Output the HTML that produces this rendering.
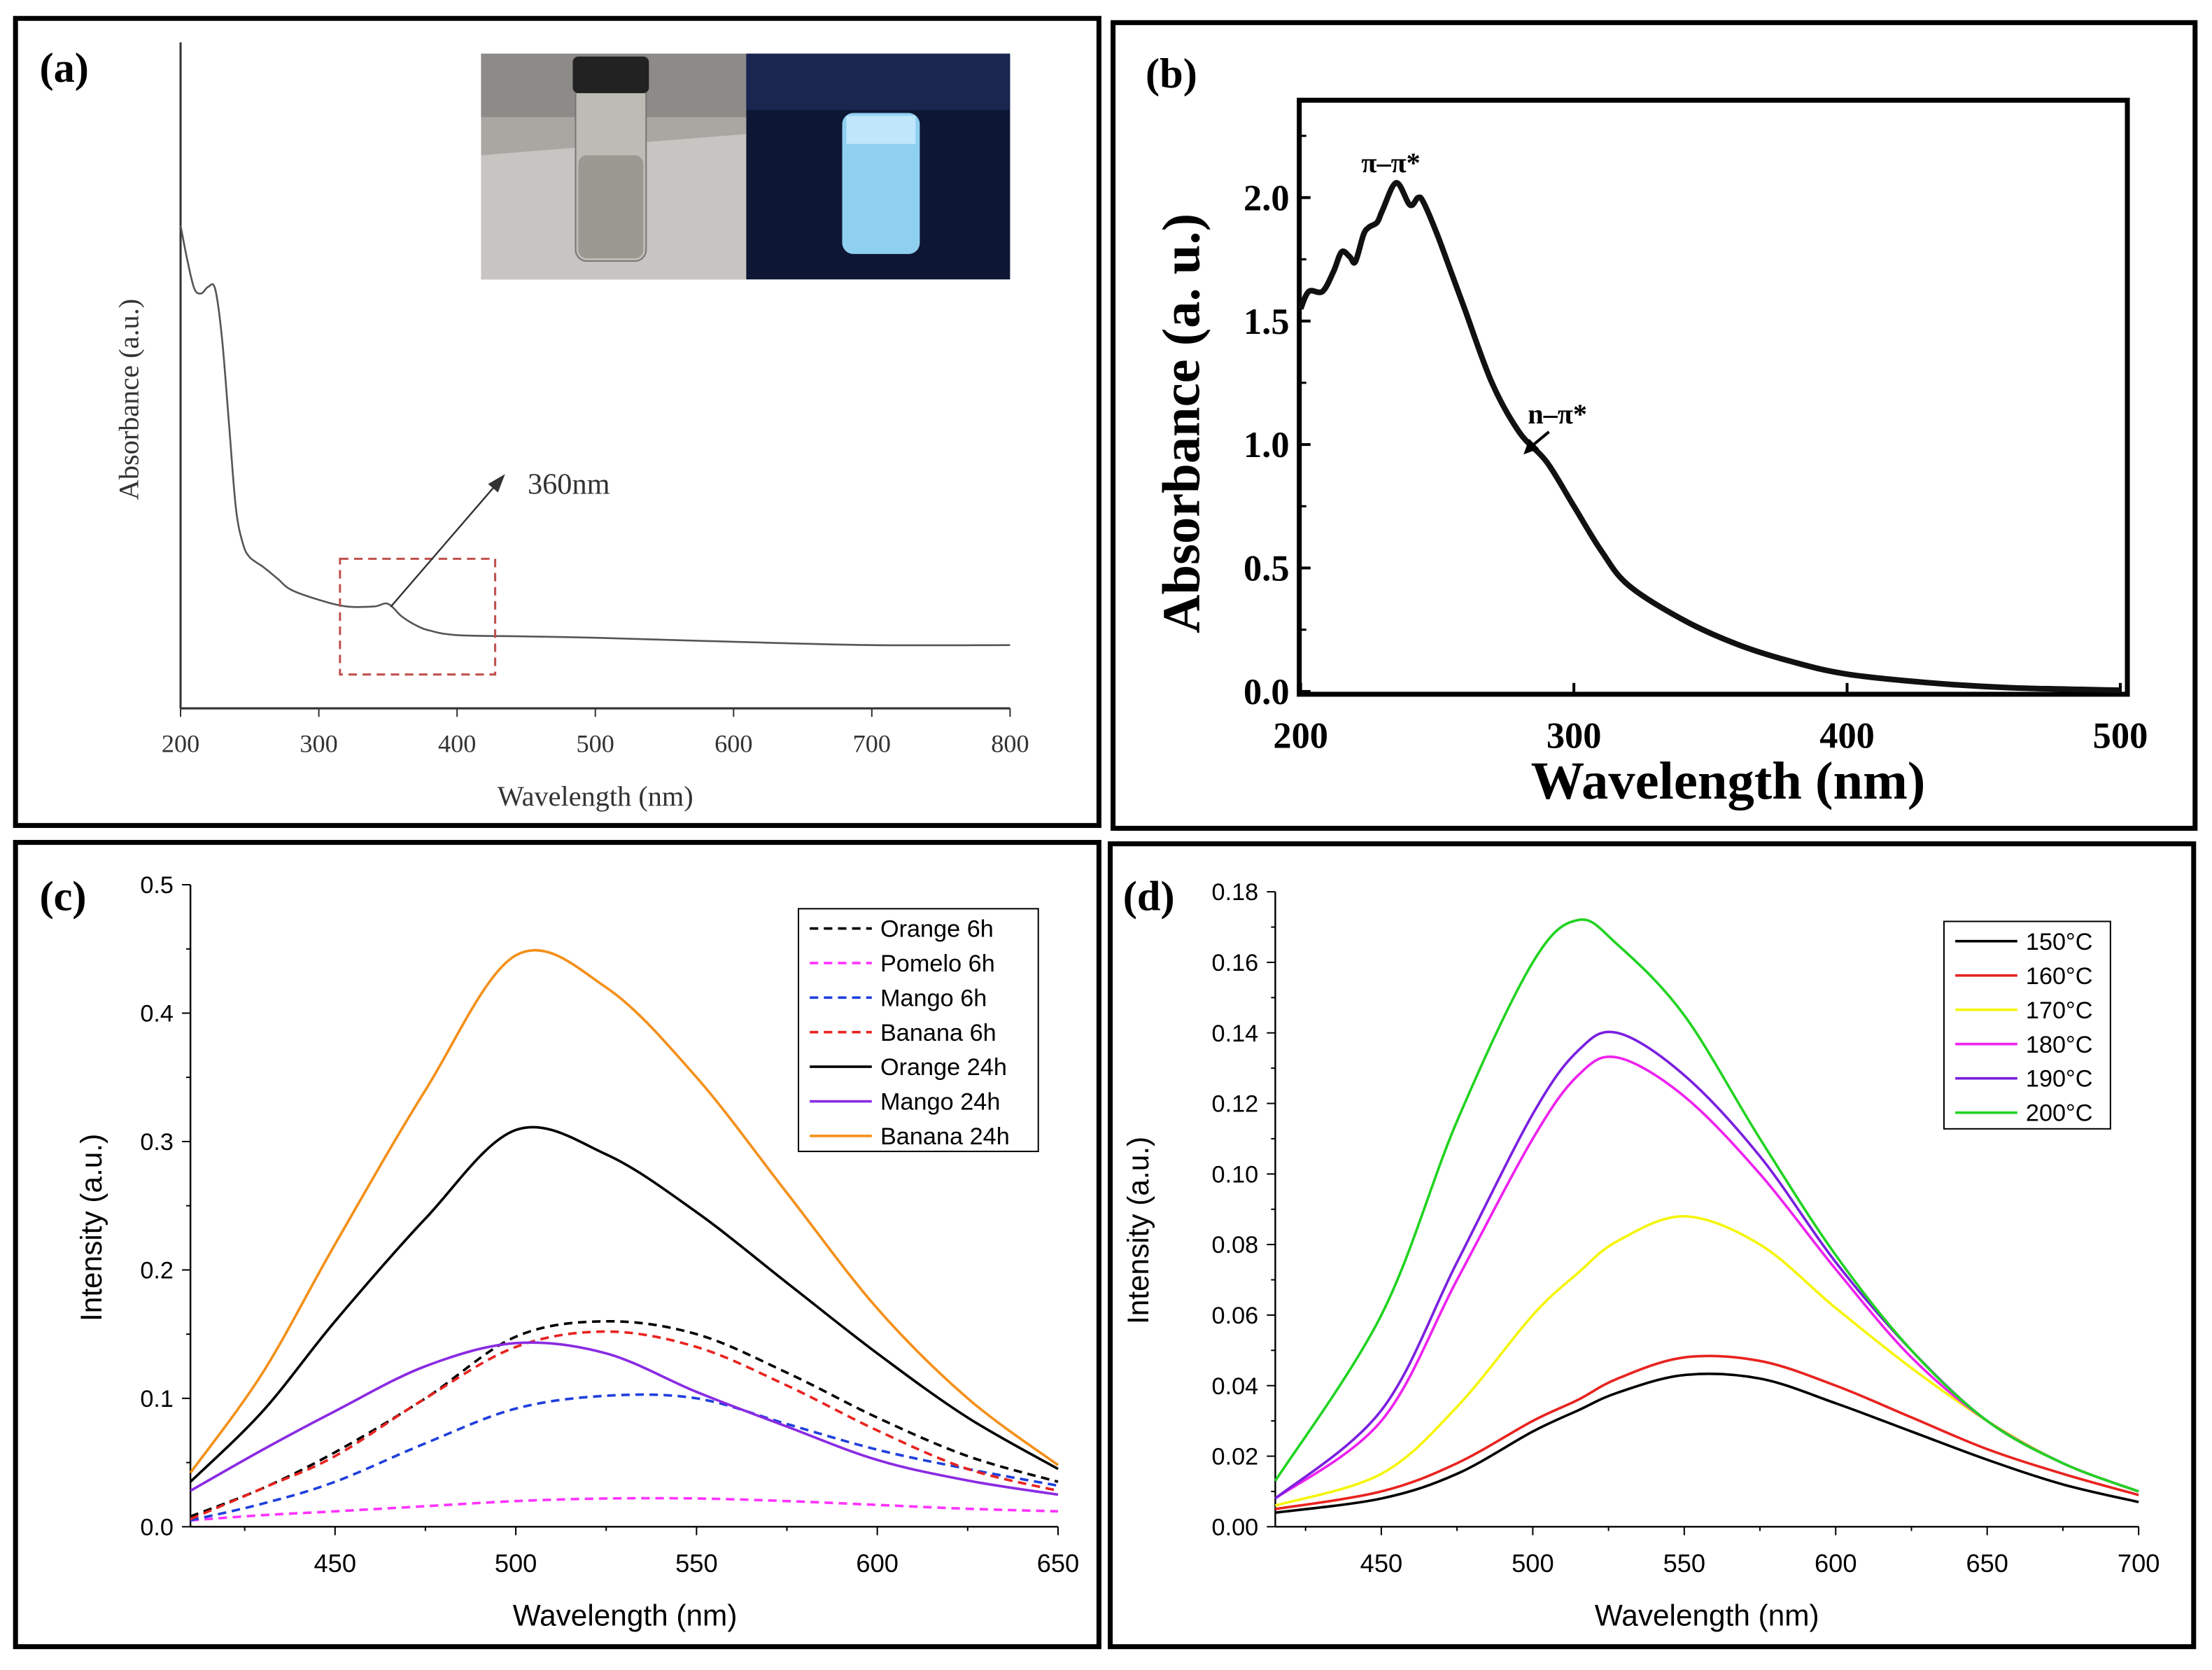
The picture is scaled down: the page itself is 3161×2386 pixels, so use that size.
<!DOCTYPE html>
<html><head><meta charset="utf-8">
<style>
html,body{margin:0;padding:0;background:#fff}
svg{display:block}
.serif{font-family:"Liberation Serif",serif}
.sans{font-family:"Liberation Sans",sans-serif}
</style></head>
<body>
<svg id="root" width="3161" height="2386" viewBox="0 0 1568 1183.5" xmlns="http://www.w3.org/2000/svg">
<rect x="0" y="0" width="1568" height="1184" fill="#fff"/>
<rect x="11" y="13" width="768" height="572" fill="none" stroke="#000" stroke-width="3.5"/>
<rect x="789" y="16" width="767" height="571" fill="none" stroke="#000" stroke-width="3.5"/>
<rect x="11" y="597" width="768" height="570" fill="none" stroke="#000" stroke-width="3.5"/>
<rect x="787" y="598" width="768" height="569" fill="none" stroke="#000" stroke-width="3.5"/>

<g id="pa">
<text x="28" y="58" class="serif" font-size="30" font-weight="bold">(a)</text>
<g>
<rect x="341" y="38" width="188" height="160" fill="#a9a7a2"/>
<rect x="341" y="38" width="188" height="45" fill="#8d8b88"/>
<polygon points="341,110 529,95 529,198 341,198" fill="#c7c5c1"/>
<rect x="408" y="60" width="50" height="125" rx="8" fill="#bdbbb6" stroke="#777" stroke-width="1"/>
<rect x="410" y="110" width="46" height="73" rx="6" fill="#9a9890"/>
<rect x="406" y="40" width="54" height="26" rx="4" fill="#222"/>
<rect x="529" y="38" width="187" height="160" fill="#0d1633"/>
<rect x="529" y="38" width="187" height="40" fill="#1a2550"/>
<rect x="597" y="80" width="55" height="100" rx="8" fill="#8fd0f0"/>
<rect x="600" y="82" width="49" height="20" fill="#bfe6fa"/>
</g>
<line x1="128" y1="30" x2="128" y2="502" stroke="#333" stroke-width="1.5"/>
<line x1="128" y1="502" x2="716" y2="502" stroke="#333" stroke-width="1.5"/>
<g id="a-xticks" class="serif" font-size="18" fill="#333"></g>
<text x="422" y="571" text-anchor="middle" class="serif" font-size="20" fill="#333">Wavelength (nm)</text>
<text transform="translate(98,283) rotate(-90)" text-anchor="middle" class="serif" font-size="20" fill="#333">Absorbance (a.u.)</text>
<path id="a-curve" fill="none" stroke="#555" stroke-width="1.3"/>
<rect x="241" y="396" width="110" height="82" fill="none" stroke="#c0504d" stroke-width="1.5" stroke-dasharray="6,4"/>
<line x1="277" y1="430" x2="352" y2="343" stroke="#333" stroke-width="1.2"/>
<polygon points="358,336 346,343 353,349" fill="#333"/>
<text x="374" y="350" class="serif" font-size="21" fill="#333">360nm</text>
</g>

<g id="pb">
<text x="812" y="62" class="serif" font-size="30" font-weight="bold">(b)</text>
<rect x="921" y="71" width="587" height="421" fill="none" stroke="#000" stroke-width="3.5"/>
<g id="b-ticks" class="serif" font-size="26" font-weight="bold"></g>
<text x="1225" y="566" text-anchor="middle" class="serif" font-size="38" font-weight="bold">Wavelength (nm)</text>
<text transform="translate(850,300) rotate(-90)" text-anchor="middle" class="serif" font-size="38" font-weight="bold">Absorbance (a. u.)</text>
<path id="b-curve" fill="none" stroke="#111" stroke-width="4"/>
<text x="965" y="122" class="serif" font-size="20" font-weight="bold">π–π*</text>
<text x="1083" y="300" class="serif" font-size="20" font-weight="bold">n–π*</text>
<line x1="1098" y1="306" x2="1086" y2="316" stroke="#000" stroke-width="2"/>
<polygon points="1080,322 1084,311 1091,318" fill="#000"/>
</g>

<g id="pc">
<text x="28" y="645" class="serif" font-size="30" font-weight="bold">(c)</text>
<g id="c-axes"></g>
<path d="M135,1082 L750,1082 M135,627 L135,1082" stroke="#000" stroke-width="1.2" fill="none"/>
<g id="c-series"></g>
<g id="c-legend"></g>
<text x="443" y="1152" text-anchor="middle" class="sans" font-size="21">Wavelength (nm)</text>
<text transform="translate(72,870) rotate(-90)" text-anchor="middle" class="sans" font-size="21">Intensity (a.u.)</text>
</g>

<g id="pd">
<text x="796" y="645" class="serif" font-size="30" font-weight="bold">(d)</text>
<g id="d-axes"></g>
<path d="M904,1082 L1516,1082 M904,632 L904,1082" stroke="#000" stroke-width="1.2" fill="none"/>
<g id="d-series"></g>
<g id="d-legend"></g>
<text x="1210" y="1152" text-anchor="middle" class="sans" font-size="21">Wavelength (nm)</text>
<text transform="translate(814,872) rotate(-90)" text-anchor="middle" class="sans" font-size="21">Intensity (a.u.)</text>
</g>
</svg>
<script>
const NS="http://www.w3.org/2000/svg";
// ---- panel a data ----
const aTicks=[200,300,400,500,600,700,800];
const aX=[200,205,210,215,220,225,230,235,240,245,250,260,270,280,300,320,340,350,360,370,380,400,450,500,600,700,800];
const aY=[0.725,0.672,0.630,0.623,0.633,0.630,0.555,0.428,0.301,0.248,0.227,0.212,0.195,0.178,0.163,0.153,0.153,0.157,0.138,0.125,0.117,0.110,0.108,0.106,0.100,0.095,0.095];
// ---- panel b data ----
const bTicksX=[200,300,400,500];
const bTicksY=[0.0,0.5,1.0,1.5,2.0];
const bX=[200,203,208,212,215,218,220,223,225,228,230,235,240,243,245,250,255,260,270,280,290,300,310,320,340,360,380,400,430,460,500];
const bY=[1.55,1.62,1.62,1.7,1.78,1.76,1.74,1.85,1.88,1.9,1.95,2.06,1.97,2.0,1.98,1.85,1.7,1.55,1.25,1.05,0.93,0.75,0.57,0.43,0.29,0.19,0.12,0.07,0.035,0.015,0.005];
// ---- panel c data ----
const cTicksX=[450,500,550,600,650];
const cTicksY=[0.0,0.1,0.2,0.3,0.4,0.5];
const cX=[410,430,450,475,500,525,550,575,600,625,650];
const cOrange6=[0.008,0.03,0.058,0.1,0.148,0.16,0.15,0.12,0.085,0.055,0.035];
const cPomelo6=[0.005,0.009,0.012,0.016,0.02,0.022,0.022,0.02,0.017,0.014,0.012];
const cMango6=[0.005,0.018,0.035,0.065,0.092,0.102,0.1,0.08,0.06,0.045,0.032];
const cBanana6=[0.006,0.03,0.055,0.1,0.14,0.152,0.14,0.11,0.075,0.045,0.028];
const cOrange24=[0.035,0.09,0.16,0.24,0.309,0.29,0.245,0.19,0.135,0.085,0.045];
const cMango24=[0.028,0.06,0.09,0.125,0.143,0.135,0.105,0.078,0.052,0.036,0.025];
const cBanana24=[0.042,0.12,0.22,0.34,0.445,0.42,0.35,0.26,0.17,0.1,0.048];
const cNames=["Orange 6h","Pomelo 6h","Mango 6h","Banana 6h","Orange 24h","Mango 24h","Banana 24h"];
// ---- panel d data ----
const dTicksX=[450,500,550,600,650,700];
const dTicksY=[0.00,0.02,0.04,0.06,0.08,0.10,0.12,0.14,0.16,0.18];
const dX=[415,450,475,500,515,528,550,575,600,625,650,675,700];
const d150=[0.004,0.008,0.015,0.027,0.033,0.038,0.043,0.042,0.035,0.027,0.019,0.012,0.007];
const d160=[0.005,0.01,0.018,0.03,0.036,0.042,0.048,0.047,0.04,0.031,0.022,0.015,0.009];
const d170=[0.006,0.015,0.034,0.06,0.072,0.081,0.088,0.08,0.062,0.045,0.03,0.018,0.01];
const d180=[0.008,0.03,0.07,0.11,0.128,0.133,0.122,0.1,0.073,0.048,0.03,0.018,0.01];
const d190=[0.008,0.033,0.075,0.117,0.135,0.14,0.128,0.105,0.075,0.05,0.03,0.018,0.01];
const d200=[0.013,0.06,0.115,0.16,0.172,0.165,0.145,0.11,0.077,0.05,0.03,0.018,0.01];
const dNames=["150°C","160°C","170°C","180°C","190°C","200°C"];

function el(tag,attrs,parent,text){const e=document.createElementNS(NS,tag);for(const k in attrs)e.setAttribute(k,attrs[k]);if(text!==undefined)e.textContent=text;parent.appendChild(e);return e;}
function lin(d0,d1,r0,r1){return v=>r0+(v-d0)*(r1-r0)/(d1-d0);}
function smooth(xs,ys,sx,sy){const p=xs.map((x,i)=>[sx(x),sy(ys[i])]);let d="M"+p[0][0].toFixed(2)+","+p[0][1].toFixed(2);
for(let i=0;i<p.length-1;i++){const p0=p[i-1]||p[i],p1=p[i],p2=p[i+1],p3=p[i+2]||p2;
const c1=[p1[0]+(p2[0]-p0[0])/6,p1[1]+(p2[1]-p0[1])/6],c2=[p2[0]-(p3[0]-p1[0])/6,p2[1]-(p3[1]-p1[1])/6];
d+=" C"+c1.map(v=>v.toFixed(2))+" "+c2.map(v=>v.toFixed(2))+" "+p2.map(v=>v.toFixed(2));}return d;}

const axX=lin(200,800,128,716), axY=lin(0,1,502,30);
const ag=document.getElementById('a-xticks');
aTicks.forEach(t=>{const x=axX(t);el('line',{x1:x,y1:502,x2:x,y2:508,stroke:'#333'},ag);
const tx=el('text',{x:x,y:533,'text-anchor':'middle'},ag,String(t));

});
document.getElementById('a-curve').setAttribute('d',smooth(aX,aY,axX,axY));

const bxX=lin(200,500,922,1503), bxY=lin(0,2,490,140);
const bg=document.getElementById('b-ticks');
bTicksX.forEach(t=>{const x=bxX(t);el('line',{x1:x,y1:492,x2:x,y2:484,stroke:'#000','stroke-width':2},bg);
const tx=el('text',{x:x,y:530,'text-anchor':'middle'},bg,String(t));

});
bTicksY.forEach(t=>{const y=bxY(t);el('line',{x1:921,y1:y,x2:929,y2:y,stroke:'#000','stroke-width':2},bg);
const tx=el('text',{x:914,y:y+9,'text-anchor':'end'},bg,t.toFixed(1));

});
for(let v=0.25;v<2.3;v+=0.5){const y=bxY(v);el('line',{x1:921,y1:y,x2:926,y2:y,stroke:'#000','stroke-width':1.5},bg);}
document.getElementById('b-curve').setAttribute('d',smooth(bX,bY,bxX,bxY));

function axes(g,sx,sy,tx,ty,x0,x1,y0,y1,fmt,minorX,minorY){
 tx.forEach(t=>{const x=sx(t);el('line',{x1:x,y1:y0,x2:x,y2:y0+6,stroke:'#000'},g);
 const e=el('text',{x:x,y:y0+32,'text-anchor':'middle',class:'sans','font-size':18},g,String(t));
 
 });
 ty.forEach(t=>{const y=sy(t);el('line',{x1:x0,y1:y,x2:x0-6,y2:y,stroke:'#000'},g);
 const e=el('text',{x:x0-12,y:y+6,'text-anchor':'end',class:'sans','font-size':17},g,fmt(t));
 
 });
 minorX.forEach(t=>{const x=sx(t);el('line',{x1:x,y1:y0,x2:x,y2:y0+3,stroke:'#000'},g);});
 minorY.forEach(t=>{const y=sy(t);el('line',{x1:x0,y1:y,x2:x0-3,y2:y,stroke:'#000'},g);});
}
function legend(g,x,y,w,h,names,colors,dashes,step){
 const r=el('rect',{x:x,y:y,width:w,height:h,fill:'#fff',stroke:'#000','stroke-width':1},g);
 
 
 names.forEach((n,i)=>{const yy=y+14+i*step;
 el('line',{x1:x+8,y1:yy,x2:x+52,y2:yy,stroke:colors[i],'stroke-width':1.8,'stroke-dasharray':dashes[i]},g);
 const t=el('text',{x:x+58,y:yy+6,class:'sans','font-size':17},g,n);
 
 });
}

const cxX=lin(410,650,135,750), cxY=lin(0,0.5,1082,627);
axes(document.getElementById('c-axes'),cxX,cxY,cTicksX,cTicksY,135,750,1082,627,t=>t.toFixed(1),[425,475,525,575,625],[0.05,0.15,0.25,0.35,0.45]);
const cSeries=[cOrange6,cPomelo6,cMango6,cBanana6,cOrange24,cMango24,cBanana24];
const cColors=['#000','#ff33ff','#1f3fdc','#e8231f','#000','#8a2be2','#f39019'];
const cDash=['6,4','6,4','6,4','6,4','none','none','none'];
const cg=document.getElementById('c-series');
cSeries.forEach((s,i)=>{const p=el('path',{d:smooth(cX,s,cxX,cxY),fill:'none',stroke:cColors[i],'stroke-width':1.8,'stroke-dasharray':cDash[i]},cg);

});
legend(document.getElementById('c-legend'),566,644,170,172,cNames,cColors,cDash,24.5);

const dxX=lin(415,700,904,1516), dxY=lin(0,0.18,1082,632);
axes(document.getElementById('d-axes'),dxX,dxY,dTicksX,dTicksY,904,1516,1082,632,t=>t.toFixed(2),[425,475,525,575,625,675],[0.01,0.03,0.05,0.07,0.09,0.11,0.13,0.15,0.17]);
const dSeries=[d150,d160,d170,d180,d190,d200];
const dColors=['#000','#e8231f','#f5f50a','#ee22ee','#7a1fe0','#22d322'];
const dg=document.getElementById('d-series');
dSeries.forEach((s,i)=>{const p=el('path',{d:smooth(dX,s,dxX,dxY),fill:'none',stroke:dColors[i],'stroke-width':1.8},dg);

});
legend(document.getElementById('d-legend'),1378,653,118,147,dNames,dColors,['none','none','none','none','none','none'],24.3);
</script>
</body></html>
